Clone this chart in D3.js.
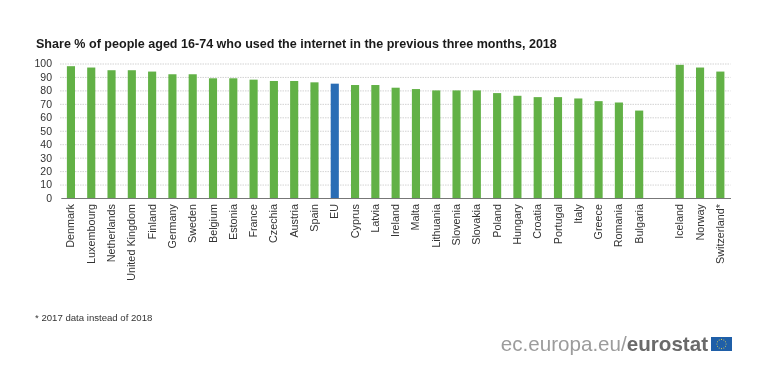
<!DOCTYPE html>
<html>
<head>
<meta charset="utf-8">
<script src="https://cdn.jsdelivr.net/npm/d3@7"></script>
<style>
  html, body { margin: 0; padding: 0; background: #fff; }
  svg { display: block; font-family: "Liberation Sans", Arial, sans-serif; filter: blur(0.3px); }
</style>
</head>
<body>
<div id="chart"></div>
<script>
// Data ("" keeps the empty slot before the EFTA countries)
const countries = ["Denmark", "Luxembourg", "Netherlands", "United Kingdom", "Finland", "Germany", "Sweden",
  "Belgium", "Estonia", "France", "Czechia", "Austria", "Spain", "EU", "Cyprus", "Latvia", "Ireland", "Malta",
  "Lithuania", "Slovenia", "Slovakia", "Poland", "Hungary", "Croatia", "Portugal", "Italy", "Greece", "Romania",
  "Bulgaria", "", "Iceland", "Norway", "Switzerland*"];
const shares = [98, 97, 95, 95, 94, 92, 92, 89, 89, 88, 87, 87, 86, 85, 84, 84, 82, 81,
  80, 80, 80, 78, 76, 75, 75, 74, 72, 71, 65, null, 99, 97, 94];
const yTicks = [0, 10, 20, 30, 40, 50, 60, 70, 80, 90, 100];

const titleText = "Share % of people aged 16-74 who used the internet in the previous three months, 2018";
const noteText = "* 2017 data instead of 2018";

const green = "#62b146";
const blue = "#2a6db5";

const width = 768;
const height = 385;
const margin = {top: 63.5, right: 37.5, bottom: 187, left: 60};
const innerWidth = width - margin.left - margin.right;
const innerHeight = height - margin.top - margin.bottom;

const svg = d3.select("#chart")
  .append("svg")
    .attr("width", width)
    .attr("height", height)
    .attr("viewBox", `0 0 ${width} ${height}`);

const innerChart = svg
  .append("g")
    .attr("transform", `translate(${margin.left}, ${margin.top})`);

// Scales
const xScale = d3.scaleBand()
  .domain(d3.range(countries.length))
  .range([0.8, innerWidth])
  .paddingInner(0.6)
  .paddingOuter(0.3);
const yScale = d3.scaleLinear()
  .domain([0, 100])
  .range([innerHeight, 0]);

// Gridlines
const grid = innerChart
  .append("g")
  .call(d3.axisLeft(yScale).tickValues(yTicks.slice(1)).tickSize(-innerWidth).tickFormat(""));
grid.select(".domain").remove();
grid.selectAll("line")
  .attr("stroke", "#c8c8c8")
  .attr("stroke-width", 0.8)
  .attr("stroke-dasharray", "1.5 1");

// Bars
innerChart
  .append("g")
  .selectAll("rect")
  .data(countries.map((c, i) => ({country: c, i: i, share: shares[i]})).filter(d => d.share !== null))
  .join("rect")
    .attr("x", d => xScale(d.i))
    .attr("y", d => yScale(d.share))
    .attr("width", xScale.bandwidth())
    .attr("height", d => innerHeight - yScale(d.share))
    .attr("fill", d => d.country === "EU" ? blue : green);

// Y axis labels
const leftAxis = innerChart
  .append("g")
  .call(d3.axisLeft(yScale).tickValues(yTicks).tickSize(0).tickPadding(8));
leftAxis.select(".domain").remove();
leftAxis.selectAll("text")
  .attr("font-family", "Liberation Sans")
  .attr("font-size", 10.5)
  .attr("fill", "#333");

// X axis with rotated country names
const bottomAxis = innerChart
  .append("g")
  .attr("transform", `translate(0, ${innerHeight})`)
  .call(d3.axisBottom(xScale).tickSize(0).tickFormat(i => countries[i]));
bottomAxis.select(".domain")
  .attr("stroke", "#777")
  .attr("stroke-width", 1.2);
bottomAxis.selectAll("text")
  .attr("font-family", "Liberation Sans")
  .attr("font-size", 10.8)
  .attr("fill", "#333")
  .attr("text-anchor", "end")
  .attr("dx", -6)
  .attr("dy", 0)
  .attr("transform", "rotate(-90)")
  .attr("x", 0)
  .attr("y", 3.5);

// Title and footnote
svg.append("text")
  .text(titleText)
  .attr("x", 36)
  .attr("y", 48)
  .attr("font-size", 12.55)
  .attr("font-weight", "bold")
  .attr("fill", "#1a1a1a");
svg.append("text")
  .text(noteText)
  .attr("x", 35)
  .attr("y", 321)
  .attr("font-size", 9.6)
  .attr("fill", "#333");

// Eurostat signature
const logo = svg.append("text")
  .attr("x", 708)
  .attr("y", 351)
  .attr("text-anchor", "end")
  .attr("font-size", 20.6);
logo.append("tspan").text("ec.europa.eu/").attr("fill", "#9c9c9c");
logo.append("tspan").text("eurostat").attr("font-weight", "bold").attr("fill", "#6a6a6a");

// EU flag
const flagX = 711, flagY = 337, flagW = 21, flagH = 14;
svg.append("rect")
  .attr("x", flagX)
  .attr("y", flagY)
  .attr("width", flagW)
  .attr("height", flagH)
  .attr("fill", "#1f5fa8");
svg.append("g")
  .selectAll("circle")
  .data(d3.range(12))
  .join("circle")
    .attr("cx", d => flagX + flagW / 2 + 4.6 * Math.cos(d * Math.PI / 6))
    .attr("cy", d => flagY + flagH / 2 + 4.6 * Math.sin(d * Math.PI / 6))
    .attr("r", 0.55)
    .attr("fill", "#d9cf5a");
</script>
</body>
</html>
